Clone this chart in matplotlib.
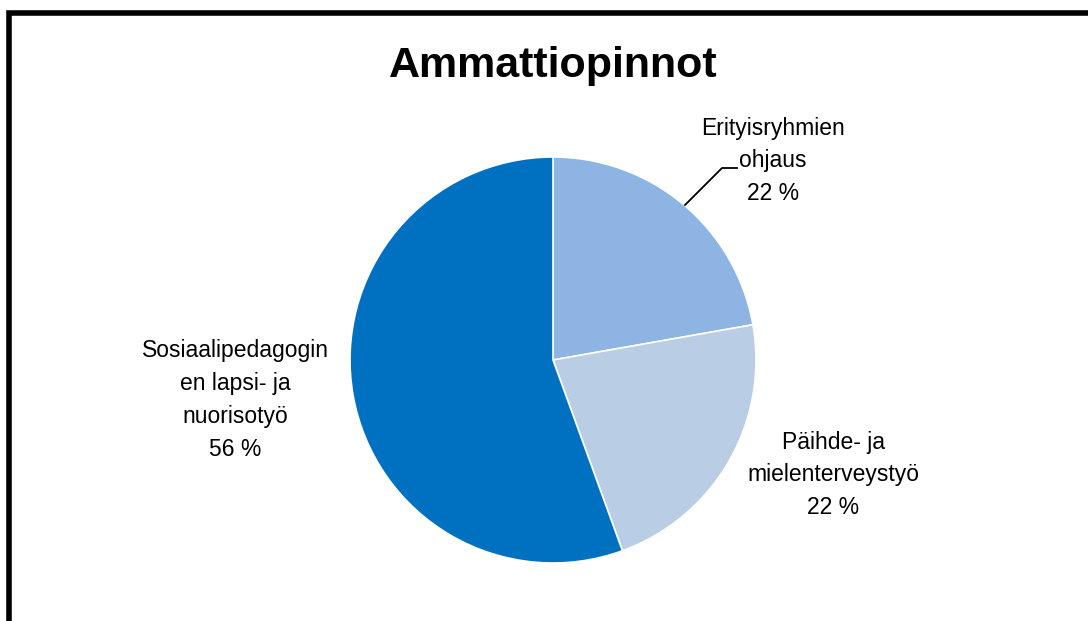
import matplotlib.pyplot as plt
from matplotlib.patches import Rectangle

labels = ['Erityisryhmien\nohjaus\n22 %', 'Päihde- ja\nmielenterveystyö\n22 %',
          'Sosiaalipedagogin\nen lapsi- ja\nnuorisotyö\n56 %']
values = [2, 2, 5]
colors = ['#8EB4E3', '#B9CDE5', '#0070C0']

W, H = 1088, 621
cx, cy, r = 553, 360, 203  # pie centre / radius in pixels


def px(x, y):
    # pixel (from top-left) -> data coords with pie radius 1
    return (x - cx) / r, (cy - y) / r


plt.rcParams['font.family'] = ['Liberation Sans', 'DejaVu Sans']
fig = plt.figure(figsize=(W / 100, H / 100), dpi=100)
fig.patch.set_facecolor('white')

# outer chart frame (clipped at right and bottom like the original)
fig.patches.append(Rectangle((8.5 / W, -0.1), 1.2, 1 - 12.5 / H + 0.1,
                             transform=fig.transFigure, fill=False,
                             edgecolor='black', linewidth=4))

ax = fig.add_axes([0, 0, 1, 1])
ax.pie(values, colors=colors, startangle=90, counterclock=False, radius=1,
       wedgeprops=dict(linewidth=1.2, edgecolor='white'))
ax.set_aspect('auto')
ax.set_xlim(-cx / r, (W - cx) / r)
ax.set_ylim((cy - H) / r, cy / r)
ax.axis('off')

ax.text(*px(553, 66), 'Ammattiopinnot', ha='center', va='center',
        fontsize=31, fontweight='bold')

label_pos = [(773, 161), (833, 475), (235, 400)]
for lab, (x, y) in zip(labels, label_pos):
    ax.text(*px(x, y), lab, ha='center', va='center', fontsize=16.5,
            linespacing=1.55)

# leader line for the first label
lx, ly = zip(px(685, 205), px(722, 168), px(737, 168))
ax.plot(lx, ly, color='black', linewidth=1.3)

fig.savefig('out.png', dpi=100)
